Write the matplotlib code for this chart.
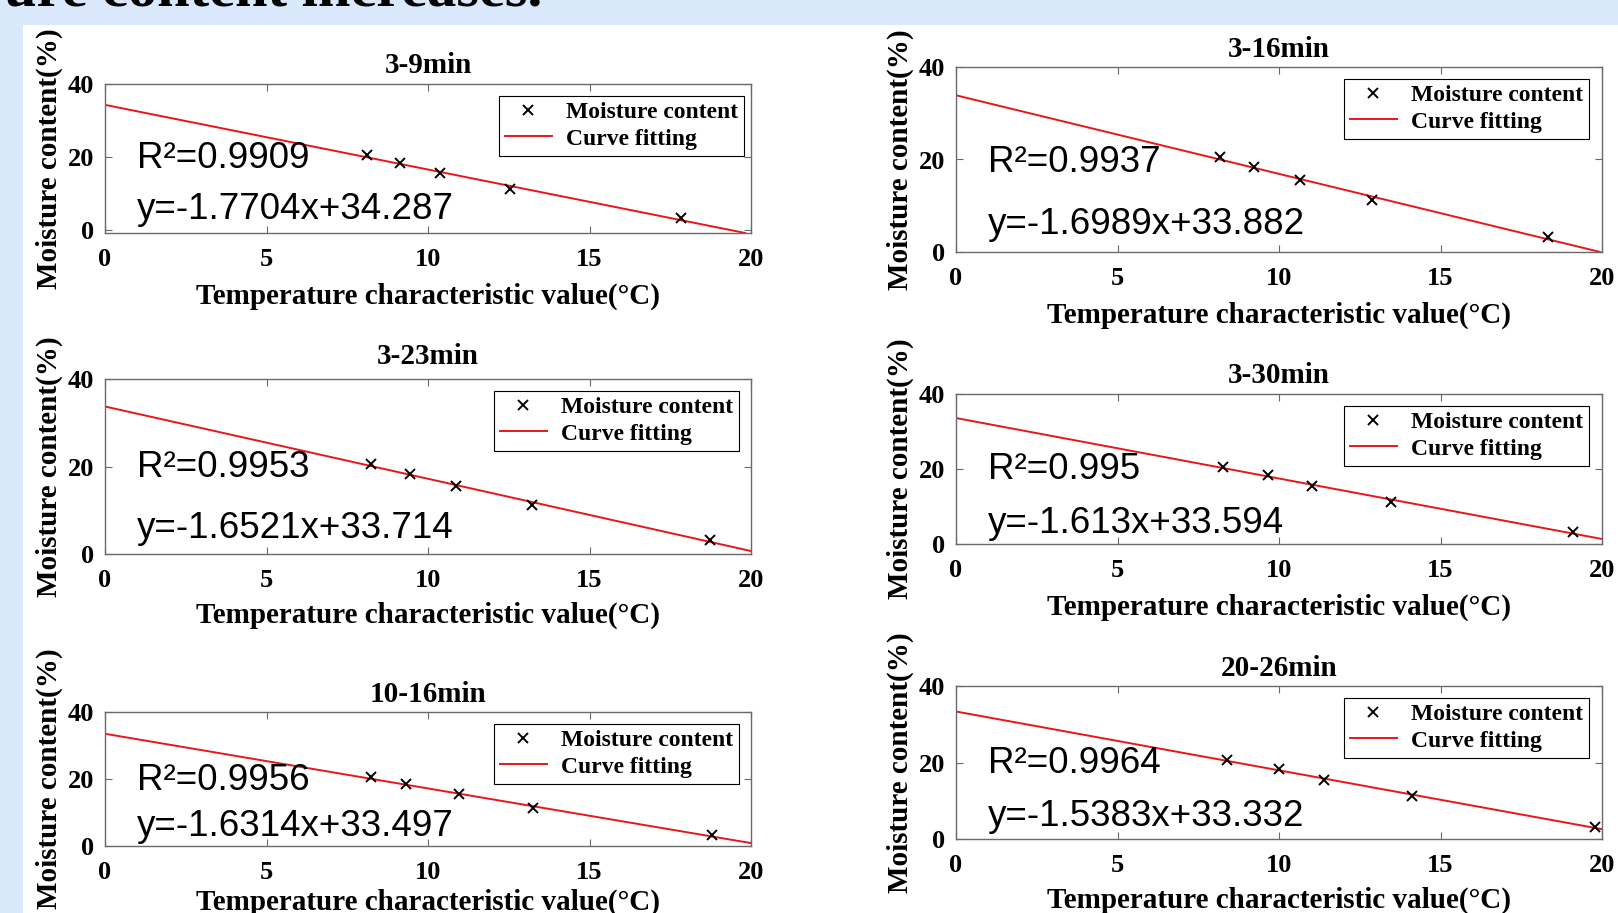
import matplotlib as mpl
mpl.use('Agg')
import matplotlib.pyplot as plt
from matplotlib.patches import Rectangle

# data
titles = ['3-9min', '3-16min', '3-23min', '3-30min', '10-16min', '20-26min']
moisture = [20.6, 18.4, 15.5, 11.3, 3.2]
temp_3_9 = [8.12, 9.14, 10.38, 12.55, 17.83]
temp_3_16 = [8.18, 9.24, 10.64, 12.87, 18.34]
temp_3_23 = [8.22, 9.43, 10.86, 13.22, 18.73]
temp_3_30 = [8.28, 9.65, 11.02, 13.47, 19.11]
temp_10_16 = [8.22, 9.33, 10.96, 13.25, 18.79]
temp_20_26 = [8.38, 10.00, 11.40, 14.11, 19.78]
temps = [temp_3_9, temp_3_16, temp_3_23, temp_3_30, temp_10_16, temp_20_26]
slopes = ['-1.7704', '-1.6989', '-1.6521', '-1.613', '-1.6314', '-1.5383']
intercepts = ['34.287', '33.882', '33.714', '33.594', '33.497', '33.332']
r2 = ['0.9909', '0.9937', '0.9953', '0.995', '0.9956', '0.9964']
xticks = [0, 5, 10, 15, 20]
yticks = [0, 20, 40]

W, H = 1618, 913
# axes boxes in pixels: left, top, right, bottom
boxes = [(105, 84, 751, 233), (956, 67, 1602, 252),
         (105, 379, 751, 554), (956, 394, 1602, 544),
         (105, 712, 751, 846), (956, 686, 1602, 839)]
title_pad = [8, 7, 11, 8, 7, 7]
xlabel_pad = [8, 8, 7, 8, 3, 7]
ybottom = [-0.8, 0, 0, 0, 0, 0]
txt_y = [(0.503, 0.158), (0.486, 0.146), (0.494, 0.146),
         (0.496, 0.139), (0.490, 0.145), (0.492, 0.148)]
leg_dx = [7, 13, 12, 13, 12, 13]

serif = 'Liberation Serif'
sans = 'Liberation Sans'
spine_c = '#6a6a6a'

fig = plt.figure(figsize=(W / 100, H / 100), dpi=100)
fig.patch.set_facecolor('#dae8fc')
fig.add_artist(Rectangle((23 / W, 0), 1, 1 - 25 / H, transform=fig.transFigure,
                         facecolor='white', edgecolor='none', zorder=0))
fig.text(542 / W, 1 - 6 / H, 'ure content increases.', ha='right', va='baseline',
         fontsize=42, fontweight='bold', family=serif, color='black')

for i in range(6):
    l, t, r, b = boxes[i]
    ax = fig.add_axes([l / W, 1 - b / H, (r - l) / W, (b - t) / H])
    ax.plot(temps[i], moisture, 'x', color='black', ms=7, mew=1.4,
            label='Moisture content', zorder=3)
    ax.axline((0, float(intercepts[i])), slope=float(slopes[i]),
              color='#e8161b', lw=1.4, label='Curve fitting', zorder=2)
    ax.set_xlim(0, 20)
    ax.set_ylim(ybottom[i], 40)
    ax.set_xticks(xticks)
    ax.set_yticks(yticks)
    ax.tick_params(direction='in', length=5, width=0.8, color=spine_c,
                   top=True, right=True, labelsize=19)
    ax.tick_params(axis='x', pad=11)
    ax.tick_params(axis='y', pad=8)
    for lab in ax.get_xticklabels() + ax.get_yticklabels():
        lab.set_family(serif)
        lab.set_fontweight('bold')
    for sp in ax.spines.values():
        sp.set_color(spine_c)
        sp.set_linewidth(1.0)
    ax.set_title(titles[i], fontsize=21, fontweight='bold', family=serif,
                 pad=title_pad[i])
    ax.set_xlabel('Temperature characteristic value(°C)', fontsize=21,
                  fontweight='bold', family=serif, labelpad=xlabel_pad[i])
    ax.set_ylabel('Moisture content(%)', fontsize=21, fontweight='bold',
                  family=serif)
    ax.yaxis.set_label_coords(-42 / (r - l), 0.5)
    ax.text(0.05, txt_y[i][0], 'R²=' + r2[i], transform=ax.transAxes,
            fontsize=26.5, family=sans, va='center')
    ax.text(0.05, txt_y[i][1], 'y=' + slopes[i] + 'x+' + intercepts[i],
            transform=ax.transAxes, fontsize=26.5, family=sans, va='center')
    leg = ax.legend(loc='upper right',
                    bbox_to_anchor=(1 - leg_dx[i] / (r - l), 1 - 12 / (b - t)),
                    borderaxespad=0, fancybox=False, framealpha=1,
                    edgecolor='black', handlelength=2.0, handletextpad=0.6,
                    borderpad=0.25, labelspacing=0.2,
                    prop={'family': serif, 'weight': 'bold', 'size': 17})
    leg.get_frame().set_linewidth(0.8)

fig.savefig('out.png', dpi=100)
